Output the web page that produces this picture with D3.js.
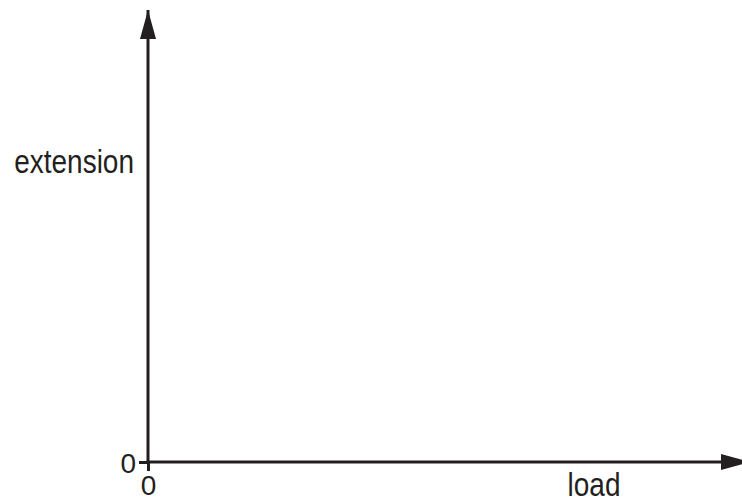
<!DOCTYPE html>
<html>
<head>
<meta charset="utf-8">
<script src="https://cdn.jsdelivr.net/npm/d3@7"></script>
<style>
  body { margin: 0; background: #fff; }
  svg text { font-family: "Liberation Sans", Arial, sans-serif; fill: #231f20; }
</style>
</head>
<body>
<div id="chart"></div>
<script>
// axis content
const xTicks = [0];
const yTicks = [0];
const xTickLabels = ["0"];
const yTickLabels = ["0"];
const xTitle = "load";
const yTitle = "extension";

const W = 742, H = 497;
const ink = "#231f20";

const svg = d3.select("#chart")
              .append("svg")
              .attr("width", W)
              .attr("height", H);

const x = d3.scaleLinear().domain([0, 1]).range([148, 750]);
const y = d3.scaleLinear().domain([0, 1]).range([462, 10]);

// arrow heads
const defs = svg.append("defs");
defs.append("marker")
    .attr("id", "arrow")
    .attr("viewBox", "0 0 29 16")
    .attr("refX", 29)
    .attr("refY", 8)
    .attr("markerWidth", 29)
    .attr("markerHeight", 16)
    .attr("markerUnits", "userSpaceOnUse")
    .attr("orient", "auto")
    .append("path")
    .attr("d", "M0,0 L29,8 L0,16 Z")
    .attr("fill", ink);

const xAxis = svg.append("g")
   .attr("transform", `translate(0,${y(0)})`)
   .call(d3.axisBottom(x)
           .tickValues(xTicks)
           .tickFormat((d, i) => xTickLabels[i])
           .tickSize(9)
           .tickPadding(4)
           .tickSizeOuter(0));

const yAxis = svg.append("g")
   .attr("transform", `translate(${x(0)},0)`)
   .call(d3.axisLeft(y)
           .tickValues(yTicks)
           .tickFormat((d, i) => yTickLabels[i])
           .tickSize(9)
           .tickPadding(3)
           .tickSizeOuter(0));

[xAxis, yAxis].forEach(g => {
  g.select(".domain").remove();
  g.selectAll(".tick line").attr("stroke", ink).attr("stroke-width", 3);
  g.selectAll(".tick text").style("font-size", "28px").attr("fill", ink);
});
yAxis.selectAll(".tick text").attr("dy", "0.36em");
xAxis.selectAll(".tick text").attr("dy", "0.72em");

// axis lines with arrows
svg.append("line")
   .attr("x1", x(0) - 1.5).attr("y1", y(0))
   .attr("x2", x(1)).attr("y2", y(0))
   .attr("stroke", ink).attr("stroke-width", 3)
   .attr("marker-end", "url(#arrow)");

svg.append("line")
   .attr("x1", x(0)).attr("y1", y(0) + 1.5)
   .attr("x2", x(0)).attr("y2", y(1))
   .attr("stroke", ink).attr("stroke-width", 3)
   .attr("marker-end", "url(#arrow)");

// titles (slightly tall lettering, as in the reference)
svg.append("text")
   .attr("transform", "translate(134,173) scale(1,1.2)")
   .attr("text-anchor", "end")
   .style("font-size", "28px")
   .text(yTitle);

svg.append("text")
   .attr("transform", "translate(594,496) scale(1,1.2)")
   .attr("text-anchor", "middle")
   .style("font-size", "28px")
   .text(xTitle);
</script>
</body>
</html>
